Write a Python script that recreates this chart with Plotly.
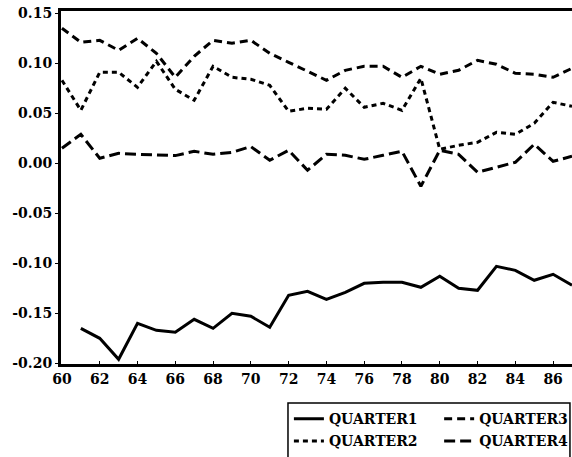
import plotly.graph_objects as go

years = list(range(60, 88))
q1_years = list(range(61, 88))
quarter1 = [-0.165, -0.175, -0.196, -0.160, -0.167, -0.169, -0.156, -0.165, -0.150, -0.153,
            -0.164, -0.132, -0.128, -0.136, -0.129, -0.120, -0.119, -0.119, -0.124, -0.113,
            -0.125, -0.127, -0.103, -0.107, -0.117, -0.111, -0.122]
quarter2 = [0.083, 0.053, 0.091, 0.091, 0.076, 0.102, 0.074, 0.063, 0.097, 0.086,
            0.084, 0.078, 0.052, 0.055, 0.054, 0.075, 0.056, 0.060, 0.053, 0.085,
            0.014, 0.018, 0.021, 0.031, 0.029, 0.040, 0.061, 0.057]
quarter3 = [0.135, 0.121, 0.123, 0.113, 0.125, 0.110, 0.086, 0.107, 0.123, 0.120,
            0.123, 0.110, 0.101, 0.092, 0.083, 0.093, 0.097, 0.097, 0.086, 0.097,
            0.089, 0.093, 0.103, 0.099, 0.090, 0.089, 0.086, 0.095]
quarter4 = [0.015, 0.029, 0.005, 0.010, 0.009, 0.0087, 0.0077, 0.012, 0.009, 0.011,
            0.0167, 0.003, 0.013, -0.007, 0.009, 0.008, 0.004, 0.008, 0.012, -0.023,
            0.013, 0.009, -0.009, -0.004, 0.001, 0.019, 0.002, 0.007]

xticks = list(range(60, 88, 2))
yticks = [0.15, 0.10, 0.05, 0.00, -0.05, -0.10, -0.15, -0.20]
ytick_labels = ["0.15", "0.10", "0.05", "0.00", "-0.05", "-0.10", "-0.15", "-0.20"]

FONT = "DejaVu Serif"
LFONT = dict(family=FONT, size=14, color="black", weight="bold")

fig = go.Figure()
fig.add_trace(go.Scatter(x=q1_years, y=quarter1, mode="lines", name="QUARTER1",
                         legend="legend", legendgroup="a",
                         line=dict(color="black", width=3)))
fig.add_trace(go.Scatter(x=years, y=quarter2, mode="lines", name="QUARTER2",
                         legend="legend", legendgroup="b",
                         line=dict(color="black", width=3, dash="5px,4px")))
fig.add_trace(go.Scatter(x=years, y=quarter3, mode="lines", name="QUARTER3",
                         legend="legend2", legendgroup="c",
                         line=dict(color="black", width=3, dash="8px,5px")))
fig.add_trace(go.Scatter(x=years, y=quarter4, mode="lines", name="QUARTER4",
                         legend="legend2", legendgroup="d",
                         line=dict(color="black", width=3, dash="11px,5px")))

legend_common = dict(
    orientation="v", yanchor="top", xanchor="left", y=-0.111,
    borderwidth=0, bgcolor="rgba(0,0,0,0)", font=LFONT, tracegroupgap=1,
)

fig.update_layout(
    width=572, height=457,
    margin=dict(l=61, r=0, t=11, b=93, autoexpand=False),
    paper_bgcolor="white", plot_bgcolor="white",
    font=dict(family=FONT, size=13, color="black"),
    showlegend=True,
    legend=dict(x=0.446, **legend_common),
    legend2=dict(x=0.740, **legend_common),
    shapes=[dict(type="rect", xref="paper", yref="paper",
                 x0=0.4442, x1=0.996, y0=-0.32, y1=-0.1105,
                 line=dict(color="black", width=1.5), layer="below")],
    xaxis=dict(
        range=[59.95, 87.0], tickvals=xticks, ticktext=[str(v) for v in xticks],
        showgrid=False, zeroline=False, showline=True, linecolor="black", linewidth=3,
        mirror=True, ticks="inside", ticklen=3, tickcolor="black", tickwidth=1,
        automargin=False,
        tickfont=dict(family=FONT, size=14, color="black", weight="bold"),
    ),
    yaxis=dict(
        range=[-0.2007, 0.1523], tickvals=yticks, ticktext=ytick_labels,
        showgrid=False, zeroline=False, showline=True, linecolor="black", linewidth=3,
        ticks="outside", ticklen=3, tickcolor="black", tickwidth=1,
        automargin=False,
        tickfont=dict(family=FONT, size=14, color="black", weight="bold"),
    ),
)

fig.write_html(
    "out.html",
    config={"displayModeBar": False},
    post_script="document.body.style.margin='0';document.body.style.overflow='hidden';",
)
